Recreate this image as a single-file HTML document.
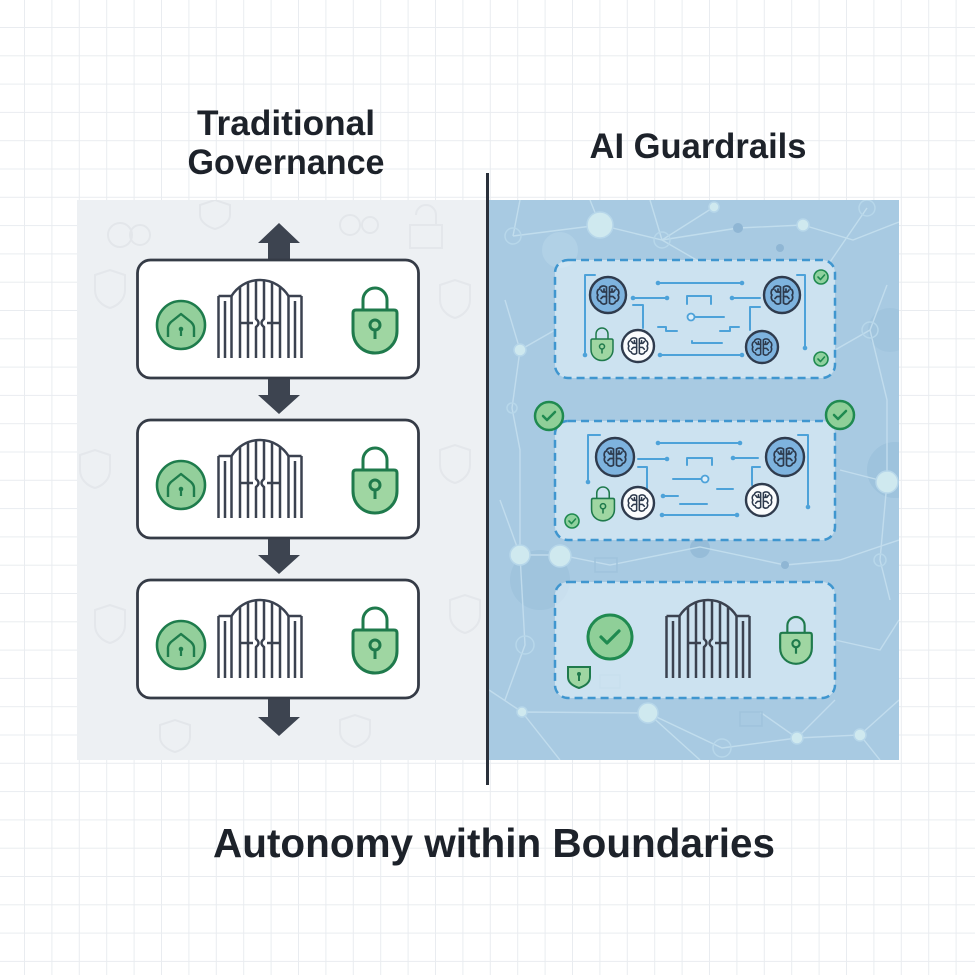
<!DOCTYPE html>
<html><head><meta charset="utf-8"><style>
html,body{margin:0;padding:0;background:#fff;}
svg{display:block;}
text{font-family:"Liberation Sans",Arial,sans-serif;font-weight:bold;fill:#1d222a;}
</style></head><body>
<svg width="975" height="975" viewBox="0 0 975 975" xmlns="http://www.w3.org/2000/svg">
<defs>
<pattern id="grid" x="24" y="27" width="27.4" height="28.3" patternUnits="userSpaceOnUse">
 <path d="M0.5 0 V28.3 M0 0.5 H27.4" stroke="#e9ecf0" stroke-width="1" fill="none"/>
</pattern>
<clipPath id="rp"><rect x="489" y="200" width="410" height="560"/></clipPath>
<clipPath id="lp"><rect x="77" y="200" width="409" height="560"/></clipPath>
<g id="gate" fill="none" stroke="#3b4250" stroke-width="2.5" stroke-linejoin="round">
 <path d="M1.5 18 V80 M14.5 18 V80 M1.5 18 H14.5 M8 23 V80"/>
 <path d="M84.5 18 V80 M71.5 18 V80 M71.5 18 H84.5 M78 23 V80"/>
 <path d="M14.5 18 A33.4 33.4 0 0 1 71.5 18"/>
 <path d="M23 8.6 V80 M63 8.6 V80 M31 4.2 V80 M55 4.2 V80"/>
 <path d="M39 2.2 V41 Q44 45 39 49 V80 M47 2.2 V41 Q42 45 47 49 V80"/>
 <path d="M23 45 H36 M50 45 H63"/>
</g>
<g id="brain" fill="none" stroke="#2d3a4d" stroke-width="1.7" stroke-linecap="round" stroke-linejoin="round">
 <path d="M-1.5 -8 C-4 -10 -8 -9 -8.5 -6 C-11 -5.5 -11.5 -1.5 -10 0 C-11.5 2 -10.5 6 -7.5 6.5 C-7 9 -3.5 10 -1.5 8 Z"/>
 <path d="M1.5 -8 C4 -10 8 -9 8.5 -6 C11 -5.5 11.5 -1.5 10 0 C11.5 2 10.5 6 7.5 6.5 C7 9 3.5 10 1.5 8 Z"/>
 <path d="M-1.5 -3 H-5.5 L-7 -5 M-1.5 1.5 H-5 L-7 3.5 M1.5 -3 H5.5 L7 -5 M1.5 1.5 H5 L7 3.5 M-4 -3 V-6 M4 -3 V-6"/>
</g>
<g id="lock" stroke="#1f7a4c" stroke-width="3" stroke-linejoin="round">
 <path d="M-12 23 V12 A12 12 0 0 1 12 12 V23" fill="none"/>
 <path d="M-22 25 Q-22 22 -19 22 H19 Q22 22 22 25 V43 C22 56 12 65 0 65 C-12 65 -22 56 -22 43 Z" fill="#9fd6a2"/>
 <circle cx="0" cy="37" r="5" fill="none"/>
 <path d="M0 42 V51" fill="none"/>
</g>
<g id="homec">
 <circle cx="0" cy="0" r="24" fill="#93cf9b" stroke="#1e7c4c" stroke-width="2.6"/>
 <path d="M-13 12 V3 Q-13 0 -10 -3 L0 -11 L10 -3 Q13 0 13 3 V12" fill="none" stroke="#1e7c4c" stroke-width="2.4" stroke-linejoin="round"/>
 <circle cx="0" cy="4" r="2.3" fill="#1e7c4c"/>
 <path d="M0 5 V11" stroke="#1e7c4c" stroke-width="2.2"/>
</g>
</defs>

<rect width="975" height="975" fill="#fff"/>
<rect width="975" height="975" fill="url(#grid)"/>

<!-- Left panel -->
<rect x="77" y="200" width="409" height="560" fill="#edf0f3"/>
<g clip-path="url(#lp)" fill="none" stroke="#e2e6ea" stroke-width="2" opacity="0.9">
 <path d="M95 275 L110 270 L125 275 V290 C125 300 117 306 110 308 C103 306 95 300 95 290 Z"/>
 <path d="M80 455 L95 450 L110 455 V470 C110 480 102 486 95 488 C88 486 80 480 80 470 Z"/>
 <path d="M440 285 L455 280 L470 285 V300 C470 310 462 316 455 318 C448 316 440 310 440 300 Z"/>
 <path d="M440 450 L455 445 L470 450 V465 C470 475 462 481 455 483 C448 481 440 475 440 465 Z"/>
 <path d="M450 600 L465 595 L480 600 V615 C480 625 472 631 465 633 C458 631 450 625 450 615 Z"/>
 <path d="M95 610 L110 605 L125 610 V625 C125 635 117 641 110 643 C103 641 95 635 95 625 Z"/>
 <path d="M416 215 A10 10 0 0 1 436 215 V225 M410 225 H442 V248 H410 Z"/>
 <path d="M200 205 L215 200 L230 205 V215 C230 222 222 227 215 229 C208 227 200 222 200 215 Z"/>
 <path d="M340 720 L355 715 L370 720 V732 C370 740 362 745 355 747 C348 745 340 740 340 732 Z"/>
 <path d="M160 725 L175 720 L190 725 V737 C190 745 182 750 175 752 C168 750 160 745 160 737 Z"/>
 <circle cx="120" cy="235" r="12"/><circle cx="140" cy="235" r="10"/>
 <circle cx="350" cy="225" r="10"/><circle cx="370" cy="225" r="8"/>
</g>

<!-- Right panel -->
<rect x="488" y="200" width="411" height="560" fill="#a8cae2"/>
<g clip-path="url(#rp)">
 <circle cx="895" cy="470" r="28" fill="#93bbd8" opacity="0.5"/>
 <circle cx="540" cy="580" r="30" fill="#93bbd8" opacity="0.4"/>
 <circle cx="890" cy="330" r="22" fill="#9cc2dc" opacity="0.6"/>
 <circle cx="560" cy="250" r="18" fill="#b8d6ea" opacity="0.6"/>
 <circle cx="700" cy="548" r="10" fill="#8fb6d4" opacity="0.7"/>
 <g fill="none" stroke="#c6e0ef" stroke-width="1.4" opacity="0.85">
  <path d="M513 236 L600 225 L662 240 L714 207 M662 240 L738 228 L803 225 M600 225 L590 200 M662 240 L650 200 M662 240 L700 262 M867 208 L830 262 M803 225 L853 240 L899 222 M513 236 L520 200"/>
  <path d="M505 300 L520 350 L512 408 L520 450 L520 555 L525 645 L505 700 M520 350 L555 330"/>
  <path d="M887 285 L870 330 L887 400 L887 482 L880 560 L890 600 M870 330 L835 350 M887 482 L840 470"/>
  <path d="M520 555 L560 555 L610 565 L700 547 L785 565 L840 560 M500 500 L520 555"/>
  <path d="M489 690 L522 712 L648 713 L722 748 L797 738 L860 735 L899 700 M648 713 L700 760 M760 712 L797 738 L835 700 M560 760 L522 712 M860 735 L880 760"/>
  <path d="M840 560 L899 540 M835 640 L880 650 L899 620"/>
 </g>
 <g stroke="#b7d7ea" stroke-width="1.5">
  <circle cx="513" cy="236" r="8" fill="none"/>
  <circle cx="600" cy="225" r="13" fill="#cfe9ef"/>
  <circle cx="662" cy="240" r="8" fill="none"/>
  <circle cx="714" cy="207" r="5" fill="#cfe9ef"/>
  <circle cx="738" cy="228" r="5" fill="#8fb6d4" stroke="none"/>
  <circle cx="803" cy="225" r="6" fill="#cfe9ef"/>
  <circle cx="867" cy="208" r="8" fill="none"/>
  <circle cx="780" cy="248" r="4" fill="#8fb6d4" stroke="none"/>
  <circle cx="520" cy="350" r="6" fill="#cfe9ef"/>
  <circle cx="870" cy="330" r="8" fill="none"/>
  <circle cx="887" cy="482" r="11" fill="#cfe9ef"/>
  <circle cx="520" cy="555" r="10" fill="#cfe9ef"/>
  <circle cx="560" cy="556" r="11" fill="#cfe9ef"/>
  <circle cx="525" cy="645" r="9" fill="none"/>
  <circle cx="522" cy="712" r="5" fill="#cfe9ef"/>
  <circle cx="648" cy="713" r="10" fill="#cfe9ef"/>
  <circle cx="722" cy="748" r="9" fill="none"/>
  <circle cx="797" cy="738" r="6" fill="#cfe9ef"/>
  <circle cx="860" cy="735" r="6" fill="#cfe9ef"/>
  <circle cx="880" cy="560" r="6" fill="none"/>
  <circle cx="785" cy="565" r="4" fill="#8fb6d4" stroke="none"/>
  <circle cx="512" cy="408" r="5" fill="none"/>
 </g>
 <g fill="none" stroke="#9fc3dc" stroke-width="1.5">
  <rect x="595" y="558" width="22" height="14"/>
  <rect x="740" y="712" width="22" height="14"/>
  <rect x="600" y="675" width="20" height="13"/>
 </g>
</g>

<!-- Separator -->
<rect x="486" y="173" width="3" height="612" fill="#2a303a"/>

<!-- Titles -->
<text x="286" y="135" font-size="35" text-anchor="middle" textLength="178" lengthAdjust="spacingAndGlyphs">Traditional</text>
<text x="286" y="174" font-size="35" text-anchor="middle" textLength="197" lengthAdjust="spacingAndGlyphs">Governance</text>
<text x="698" y="158" font-size="35" text-anchor="middle" textLength="217" lengthAdjust="spacingAndGlyphs">AI Guardrails</text>
<text x="494" y="857" font-size="41" text-anchor="middle" textLength="562" lengthAdjust="spacingAndGlyphs">Autonomy within Boundaries</text>

<!-- Left arrows -->
<g fill="#3d4450">
 <polygon points="279,223 300,243 290,243 290,261 268,261 268,243 258,243"/>
 <polygon points="268,377 290,377 290,395 300,395 279,414 258,395 268,395"/>
 <polygon points="268,537 290,537 290,555 300,555 279,574 258,555 268,555"/>
 <polygon points="268,697 290,697 290,717 300,717 279,736 258,717 268,717"/>
</g>

<!-- Left boxes -->
<g>
 <rect x="137.5" y="260" width="281" height="118" rx="13" fill="#fff" stroke="#353b46" stroke-width="2.8"/>
 <use href="#homec" transform="translate(181,325)"/>
 <use href="#gate" transform="translate(217,278)"/>
 <use href="#lock" transform="translate(375,288)"/>

 <rect x="137.5" y="420" width="281" height="118" rx="13" fill="#fff" stroke="#353b46" stroke-width="2.8"/>
 <use href="#homec" transform="translate(181,485)"/>
 <use href="#gate" transform="translate(217,438)"/>
 <use href="#lock" transform="translate(375,448)"/>

 <rect x="137.5" y="580" width="281" height="118" rx="13" fill="#fff" stroke="#353b46" stroke-width="2.8"/>
 <use href="#homec" transform="translate(181,645)"/>
 <use href="#gate" transform="translate(217,598)"/>
 <use href="#lock" transform="translate(375,608)"/>
</g>

<!-- Right boxes -->
<g fill="rgba(228,241,250,0.6)" stroke="#3f96cf" stroke-width="2.5" stroke-dasharray="8 5">
 <rect x="555" y="260" width="280" height="118" rx="13"/>
 <rect x="555" y="421" width="280" height="119" rx="13"/>
 <rect x="555" y="582" width="280" height="116" rx="13"/>
</g>

<!-- Box 1 circuits -->
<g fill="none" stroke="#4da2d9" stroke-width="2" stroke-linecap="round" stroke-linejoin="round">
 <path d="M595 275 H585 V355"/>
 <path d="M797 275 H805 V348"/>
 <path d="M658 283 H742"/>
 <path d="M633 298 H667"/>
 <path d="M732 298 H760"/>
 <path d="M687 304 V296 H711 V304"/>
 <path d="M695 317 H724"/>
 <path d="M633 305 H643 V328"/>
 <path d="M760 307 H750 V330"/>
 <path d="M658 327 H666 V331 H677"/>
 <path d="M720 331 H730 V327 H739"/>
 <path d="M692 341 V343 H722"/>
 <path d="M660 355 H742"/>
</g>
<g fill="#4da2d9">
 <circle cx="585" cy="355" r="2.3"/><circle cx="805" cy="348" r="2.3"/>
 <circle cx="658" cy="283" r="2.3"/><circle cx="742" cy="283" r="2.3"/>
 <circle cx="633" cy="298" r="2.3"/><circle cx="667" cy="298" r="2.3"/>
 <circle cx="732" cy="298" r="2.3"/><circle cx="660" cy="355" r="2.3"/><circle cx="742" cy="355" r="2.3"/>
</g>
<circle cx="691" cy="317" r="3.5" fill="#dceefa" stroke="#4da2d9" stroke-width="1.8"/>

<!-- Box 2 circuits -->
<g fill="none" stroke="#4da2d9" stroke-width="2" stroke-linecap="round" stroke-linejoin="round">
 <path d="M600 435 H588 V482"/>
 <path d="M798 435 H808 V507"/>
 <path d="M658 443 H740"/>
 <path d="M638 459 H667"/>
 <path d="M733 458 H758"/>
 <path d="M687 465 V458 H712 V465"/>
 <path d="M673 479 H701"/>
 <path d="M717 489 H733"/>
 <path d="M638 467 H647 V490"/>
 <path d="M760 467 H752 V485"/>
 <path d="M663 496 H678"/>
 <path d="M680 504 H707"/>
 <path d="M662 515 H737"/>
</g>
<g fill="#4da2d9">
 <circle cx="588" cy="482" r="2.3"/><circle cx="808" cy="507" r="2.3"/>
 <circle cx="658" cy="443" r="2.3"/><circle cx="740" cy="443" r="2.3"/>
 <circle cx="667" cy="459" r="2.3"/><circle cx="733" cy="458" r="2.3"/>
 <circle cx="662" cy="515" r="2.3"/><circle cx="737" cy="515" r="2.3"/><circle cx="663" cy="496" r="2.3"/>
</g>
<circle cx="705" cy="479" r="3.5" fill="#dceefa" stroke="#4da2d9" stroke-width="1.8"/>

<!-- Brains box 1 -->
<circle cx="608" cy="295" r="18" fill="#7eb3de" stroke="#2f3b4d" stroke-width="2.4"/>
<use href="#brain" transform="translate(608,295)"/>
<circle cx="782" cy="295" r="18" fill="#7eb3de" stroke="#2f3b4d" stroke-width="2.4"/>
<use href="#brain" transform="translate(782,295)"/>
<circle cx="762" cy="347" r="16" fill="#7eb3de" stroke="#2f3b4d" stroke-width="2.4"/>
<use href="#brain" transform="translate(762,347) scale(0.9)"/>
<circle cx="638" cy="346" r="16" fill="#fafcfd" stroke="#2f3b4d" stroke-width="2.4"/>
<use href="#brain" transform="translate(638,346) scale(0.9)"/>
<use href="#lock" transform="translate(602,328) scale(0.5)"/>

<!-- Brains box 2 -->
<circle cx="615" cy="457" r="19" fill="#7eb3de" stroke="#2f3b4d" stroke-width="2.4"/>
<use href="#brain" transform="translate(615,457)"/>
<circle cx="785" cy="457" r="19" fill="#7eb3de" stroke="#2f3b4d" stroke-width="2.4"/>
<use href="#brain" transform="translate(785,457)"/>
<circle cx="638" cy="503" r="16" fill="#fafcfd" stroke="#2f3b4d" stroke-width="2.4"/>
<use href="#brain" transform="translate(638,503) scale(0.9)"/>
<circle cx="762" cy="500" r="16" fill="#fafcfd" stroke="#2f3b4d" stroke-width="2.4"/>
<use href="#brain" transform="translate(762,500) scale(0.9)"/>
<use href="#lock" transform="translate(603,487) scale(0.52)"/>

<!-- Checks -->
<g stroke="#1f8a50" stroke-linecap="round" stroke-linejoin="round">
 <circle cx="821" cy="277" r="7" fill="#8fd19e" stroke-width="1.6"/>
 <path d="M818 277 L820.5 279.5 L824.5 275" fill="none" stroke-width="1.6"/>
 <circle cx="821" cy="359" r="7" fill="#8fd19e" stroke-width="1.6"/>
 <path d="M818 359 L820.5 361.5 L824.5 357" fill="none" stroke-width="1.6"/>
 <circle cx="572" cy="521" r="7" fill="#8fd19e" stroke-width="1.6"/>
 <path d="M569 521 L571.5 523.5 L575.5 519" fill="none" stroke-width="1.6"/>
 <circle cx="549" cy="416" r="14" fill="#8fcf98" stroke-width="2.5"/>
 <path d="M543 416 L547 420 L555 412" fill="none" stroke-width="2.5"/>
 <circle cx="840" cy="415" r="14" fill="#8fcf98" stroke-width="2.5"/>
 <path d="M834 415 L838 419 L846 411" fill="none" stroke-width="2.5"/>
 <circle cx="610" cy="637" r="22" fill="#8fcf98" stroke-width="3"/>
 <path d="M601 637 L607 643 L619 631" fill="none" stroke-width="3.2"/>
</g>

<!-- Box 3 -->
<use href="#gate" transform="translate(665,598)"/>
<use href="#lock" transform="translate(796,617) scale(0.72)"/>
<path d="M568 667 H590 V677 C590 683 585 686 579 688 C573 686 568 683 568 677 Z" fill="#9fd6a2" stroke="#1f7a4c" stroke-width="2"/>
<circle cx="579" cy="674" r="2" fill="#1f7a4c"/>
<path d="M579 675 V681" stroke="#1f7a4c" stroke-width="2"/>
</svg>
</body></html>
